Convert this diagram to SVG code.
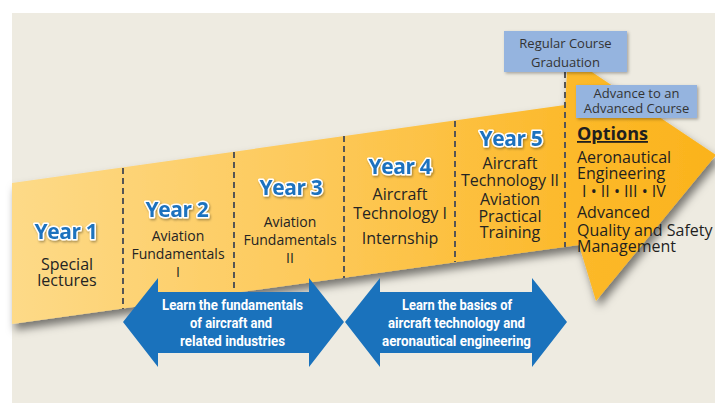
<svg xmlns="http://www.w3.org/2000/svg" width="715" height="403" viewBox="0 0 715 403">
<defs>
<linearGradient id="bandGrad" x1="12" y1="0" x2="716" y2="0" gradientUnits="userSpaceOnUse">
<stop offset="0" stop-color="#FDDA88"/>
<stop offset="0.45" stop-color="#FDC857"/>
<stop offset="0.8" stop-color="#FCB92A"/>
<stop offset="1" stop-color="#FBB31C"/>
</linearGradient>
<filter id="bandShadow" x="-5%" y="-10%" width="115%" height="130%">
<feDropShadow dx="3" dy="6" stdDeviation="4" flood-color="#000" flood-opacity="0.5"/>
</filter>
<filter id="txtShadow" x="-10%" y="-20%" width="130%" height="150%">
<feDropShadow dx="1" dy="1.5" stdDeviation="1" flood-color="#000" flood-opacity="0.35"/>
</filter>
<filter id="boxShadow" x="-10%" y="-20%" width="130%" height="150%">
<feDropShadow dx="1.5" dy="1.5" stdDeviation="1.5" flood-color="#000" flood-opacity="0.3"/>
</filter>
<style>
.yr{font-family:"Open Sans","Noto Sans",sans-serif;font-weight:bold;font-size:21px;fill:#1E72BE;stroke:#fff;stroke-width:3;paint-order:stroke;stroke-linejoin:round;text-anchor:middle;letter-spacing:-0.4px}
.d{font-family:"Open Sans","Noto Sans",sans-serif;font-weight:500;fill:#242424;text-anchor:middle}
.s14{font-size:14px}
.s16{font-size:16px}
.opt{font-family:"Open Sans","Noto Sans",sans-serif;font-weight:500;fill:#1F1F1F;font-size:16px}
.box{fill:#95B4DF}
.bt{font-family:"Open Sans","Noto Sans",sans-serif;font-size:13px;fill:#333;text-anchor:middle}
.dash{stroke:#555;stroke-width:2;stroke-dasharray:6 4;fill:none}
.blue{fill:#1A72BC}
.wt{font-family:"Roboto","Open Sans",sans-serif;font-weight:bold;font-size:14.5px;fill:#fff;text-anchor:middle}
</style>
</defs>

<rect x="0" y="0" width="715" height="403" fill="#fff"/>
<rect x="12" y="13" width="703" height="390" fill="#EEEBE1"/>

<g id="band">
<path d="M12,183 L565,105 L568,56 L716,155 L596,301 L579,245 L12,324 Z" fill="url(#bandGrad)" filter="url(#bandShadow)"/>
</g>

<g id="connectors">
<line class="dash" x1="123" y1="168" x2="123" y2="309"/>
<line class="dash" x1="234" y1="152" x2="234" y2="293"/>
<line class="dash" x1="344" y1="136" x2="344" y2="278"/>
<line class="dash" x1="455" y1="121" x2="455" y2="262"/>
<line class="dash" x1="565" y1="72" x2="565" y2="247"/>
</g>

<g id="year1">
<text class="yr" x="66" y="239" filter="url(#txtShadow)">Year 1</text>
<text class="d s16" x="67" y="270">Special</text>
<text class="d s16" x="67" y="286">lectures</text>
</g>

<g id="year2">
<text class="yr" x="177" y="217" filter="url(#txtShadow)">Year 2</text>
<text class="d s14" x="178" y="241">Aviation</text>
<text class="d s14" x="178" y="259">Fundamentals</text>
<text class="d s14" x="178" y="277">I</text>
</g>

<g id="year3">
<text class="yr" x="291" y="195" filter="url(#txtShadow)">Year 3</text>
<text class="d s14" x="290" y="227">Aviation</text>
<text class="d s14" x="290" y="245">Fundamentals</text>
<text class="d s14" x="290" y="263">II</text>
</g>

<g id="year4">
<text class="yr" x="400" y="174" filter="url(#txtShadow)">Year 4</text>
<text class="d s16" x="400" y="200">Aircraft</text>
<text class="d s16" x="400" y="219">Technology I</text>
<text class="d s16" x="400" y="244">Internship</text>
</g>

<g id="year5">
<text class="yr" x="511" y="146" filter="url(#txtShadow)">Year 5</text>
<text class="d s16" x="510" y="169">Aircraft</text>
<text class="d s16" x="510" y="186">Technology II</text>
<text class="d s16" x="510" y="205">Aviation</text>
<text class="d s16" x="510" y="222">Practical</text>
<text class="d s16" x="510" y="238">Training</text>
</g>

<g id="graduation">
<rect class="box" x="504" y="31" width="123" height="41" filter="url(#boxShadow)"/>
<text class="bt" x="565.5" y="47.5">Regular Course</text>
<text class="bt" x="565.5" y="67">Graduation</text>
</g>

<g id="advance">
<rect class="box" x="576" y="85" width="121" height="33" filter="url(#boxShadow)"/>
<text class="bt" x="636.5" y="98">Advance to an</text>
<text class="bt" x="636.5" y="113">Advanced Course</text>
</g>

<g id="options">
<text class="opt" x="577" y="140" font-weight="bold" text-decoration="underline" style="font-size:18px;font-weight:bold">Options</text>
<text class="opt" x="577" y="163">Aeronautical</text>
<text class="opt" x="577" y="179">Engineering</text>
<text class="opt" x="582" y="197">I • II • III • IV</text>
<text class="opt" x="577" y="218">Advanced</text>
<text class="opt" x="577" y="236">Quality and Safety</text>
<text class="opt" x="577" y="252">Management</text>
</g>

<g id="fundamentals-arrow">
<polygon class="blue" points="123,322 158,278 158,292 309,292 309,278 344,322 309,367 309,353 158,353 158,367"/>
<text class="wt" x="232.5" y="310" textLength="141" lengthAdjust="spacingAndGlyphs">Learn the fundamentals</text>
<text class="wt" x="231" y="328" textLength="82" lengthAdjust="spacingAndGlyphs">of aircraft and</text>
<text class="wt" x="232.5" y="346" textLength="105" lengthAdjust="spacingAndGlyphs">related industries</text>
</g>

<g id="basics-arrow">
<polygon class="blue" points="345,322 380,278 380,292 532,292 532,278 567,322 532,367 532,353 380,353 380,367"/>
<text class="wt" x="457" y="310" textLength="110" lengthAdjust="spacingAndGlyphs">Learn the basics of</text>
<text class="wt" x="456.5" y="328" textLength="137" lengthAdjust="spacingAndGlyphs">aircraft technology and</text>
<text class="wt" x="456.5" y="346" textLength="149" lengthAdjust="spacingAndGlyphs">aeronautical engineering</text>
</g>
</svg>
